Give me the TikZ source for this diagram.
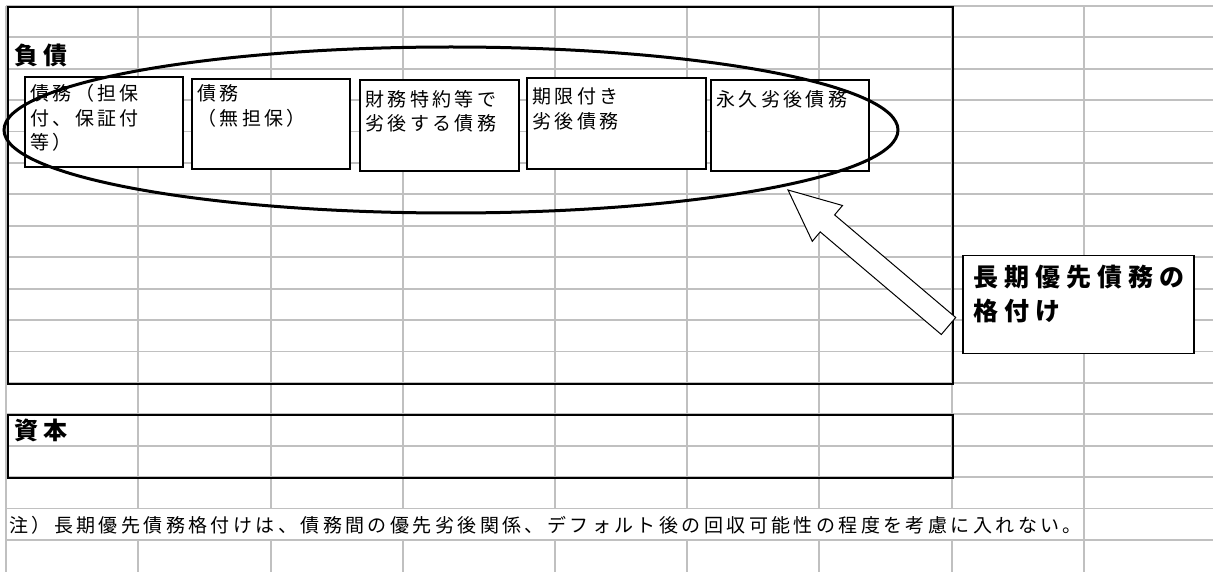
\documentclass[tikz,border=0pt]{standalone}
\usepackage{fontspec}
\usetikzlibrary{shapes.geometric}
\newfontfamily\jp{Noto Sans CJK JP}[LetterSpace=18]
\newfontfamily\jph{Noto Sans CJK JP}[LetterSpace=24]
\definecolor{gridgray}{HTML}{C0C0C0}
\begin{document}
\begin{tikzpicture}[x=1pt,y=-1pt,
  gridline/.style={draw=gridgray,line width=1.8pt},
  bigbox/.style={draw=black,line width=2.2pt,inner sep=0pt,anchor=north west},
  itembox/.style={draw=black,fill=white,line width=1.3pt,inner sep=0pt},
  itemtext/.style={anchor=base west,inner sep=0pt,align=left,font=\jp\fontsize{19}{24.5}\selectfont},
  headtext/.style={anchor=base west,inner sep=0pt,font=\jph\bfseries\fontsize{24}{28}\selectfont},
  calltext/.style={anchor=base west,inner sep=0pt,align=left,font=\jph\bfseries\fontsize{25}{34}\selectfont},
  notetext/.style={anchor=base west,inner sep=0pt,font=\jp\fontsize{19}{22}\selectfont},
  blockarrow/.style={draw=black,fill=white,line width=1pt,line join=miter}]
\useasboundingbox (0,0) rectangle (1213,572);
\fill[white] (0,0) rectangle (1213,572);
% grid
\foreach \k in {0,...,17} \draw[gridline] (6,{6+31.4*\k}) -- (1213,{6+31.4*\k});
\foreach \x in {6,138,271,403,555,687,819,952,1084} {
  \draw[gridline] (\x,6) -- (\x,508.4);
  \draw[gridline] (\x,539.8) -- (\x,572);
}
\foreach \x in {6,1084} \draw[gridline] (\x,508.4) -- (\x,539.8);
% big boxes
\node[bigbox,minimum width=945,minimum height=376.8] (debt) at (7,6) {};
\node[bigbox,minimum width=945,minimum height=62.4] (equity) at (7,414.2) {};
\node[headtext] (debtlabel) at (14,65) {負債};
\node[headtext] (equitylabel) at (14,439) {資本};
% item boxes
\node[itembox,minimum width=158,minimum height=90] (b1) at (104,122) {};
\node[itembox,minimum width=158,minimum height=90] (b2) at (271,124) {};
\node[itembox,minimum width=159,minimum height=91] (b3) at (439.5,125.5) {};
\node[itembox,minimum width=179,minimum height=91] (b4) at (616.5,123.5) {};
\node[itembox,minimum width=158,minimum height=91] (b5) at (790,125.5) {};
\node[itemtext] (t1) at (30,150) {債務（担保\\付、保証付\\等）};
\node[itemtext] (t2) at (197,125.5) {債務\\（無担保）};
\node[itemtext] (t3) at (365,131) {財務特約等で\\劣後する債務};
\node[itemtext] (t4) at (532,128.5) {期限付き\\劣後債務};
\node[itemtext] (t5) at (716,107) {永久劣後債務};
% ellipse
\node[draw=black,ellipse,line width=3pt,inner sep=0pt,minimum width=894,minimum height=166] (ell) at (451,130) {};
% block arrow
\draw[blockarrow] (788,190) -- (842.5,205.5) -- (834.6,214.9) -- (955.7,317.5)
  -- (941.3,334.5) -- (820.2,231.9) -- (812.3,241.3) -- cycle;
% callout
\node[itembox,minimum width=231,minimum height=98] (call) at (1078.5,304.5) {};
\node[calltext] (calltxt) at (973,320.5) {長期優先債務の\\格付け};
% note
\node[notetext] (note) at (9,532) {注）長期優先債務格付けは、債務間の優先劣後関係、デフォルト後の回収可能性の程度を考慮に入れない。};
\end{tikzpicture}
\end{document}
